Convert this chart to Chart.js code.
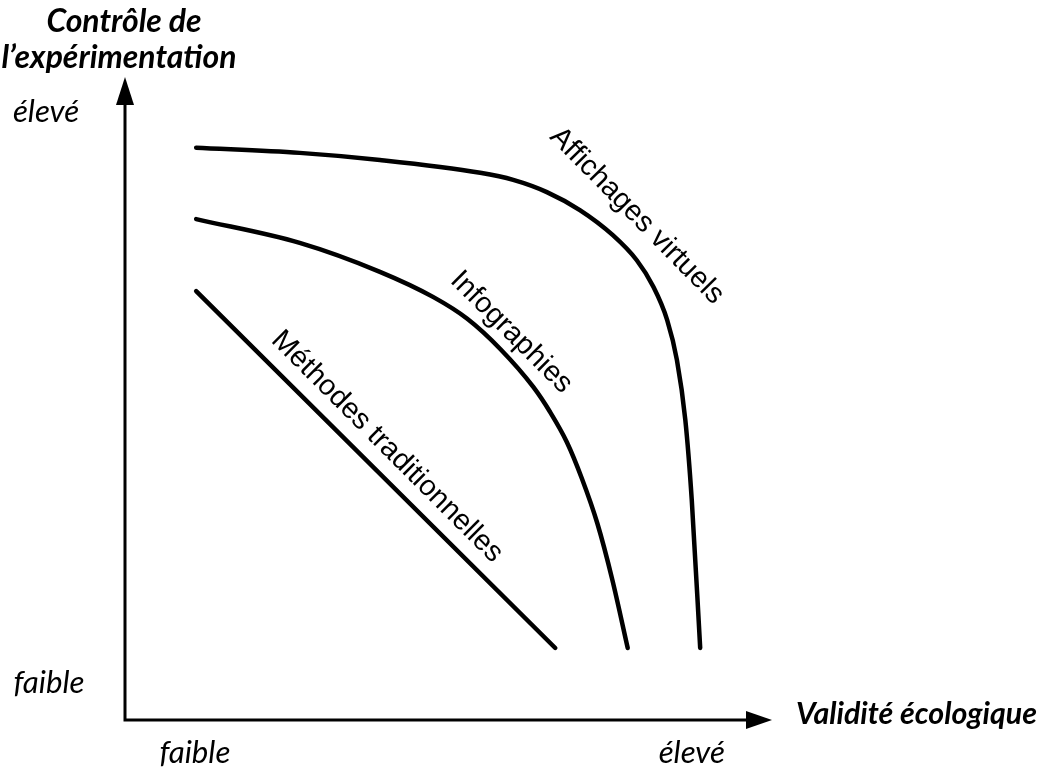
<!DOCTYPE html>
<html>
<head>
<meta charset="utf-8">
<script src="https://cdn.jsdelivr.net/npm/chart.js@4.4.1/dist/chart.umd.min.js"></script>
<style>
  html, body { margin: 0; padding: 0; background: #fff; }
  #wrap { width: 1045px; height: 769px; position: relative; }
</style>
</head>
<body>
<div id="wrap"><canvas id="c"></canvas></div>
<script>
// ---- Data (arbitrary 0-100 units) ----
const seriesNames = ['Méthodes traditionnelles', 'Infographies', 'Affichages virtuels'];

const methodesX = [11.0, 66.5];
const methodesY = [66.7, 11.2];

const infographiesX = [11.0, 27.0, 39.4, 47.6, 52.9, 58.0, 63.1, 65.7, 68.3, 70.6, 73.0, 75.3, 77.7];
const infographiesY = [77.9, 74.2, 69.7, 65.8, 62.4, 57.7, 51.8, 47.9, 43.2, 37.6, 30.6, 21.9, 11.2];

const affichagesX = [11.0, 27.0, 39.4, 54.9, 60.0, 65.2, 70.3, 75.4, 79.1, 81.6, 83.8, 85.3, 86.6, 87.6, 88.9];
const affichagesY = [89.0, 88.2, 87.1, 85.1, 84.0, 82.1, 79.3, 75.4, 71.5, 67.5, 62.2, 56.0, 46.7, 34.2, 11.2];

const xAxisTitle = 'Validité écologique';
const yAxisTitle = ['Contrôle de', 'l\u2019expérimentation'];
const xTickLabels = ['faible', 'élevé'];
const yTickLabels = ['faible', 'élevé'];

function pts(xs, ys) { return xs.map((x, i) => ({ x: x, y: ys[i] })); }

function fitFont(ctx, text, style, family, target) {
  ctx.font = style + ' 100px ' + family;
  const w = ctx.measureText(text).width;
  const size = 100 * target / w;
  return style + ' ' + size.toFixed(2) + 'px ' + family;
}

const decor = {
  id: 'decor',
  afterDatasetsDraw(chart) {
    const ctx = chart.ctx;
    const xs = chart.scales.x, ys = chart.scales.y;
    const x0 = xs.getPixelForValue(0), y0 = ys.getPixelForValue(0);
    const xTip = xs.getPixelForValue(100), yTip = ys.getPixelForValue(100);
    ctx.save();
    // axes
    ctx.strokeStyle = '#000';
    ctx.fillStyle = '#000';
    ctx.lineWidth = 3;
    ctx.lineCap = 'butt';
    ctx.beginPath();
    ctx.moveTo(x0, y0 + 1.5);
    ctx.lineTo(x0, yTip + 27);
    ctx.moveTo(x0 - 1.5, y0);
    ctx.lineTo(xTip - 25, y0);
    ctx.stroke();
    // arrowheads
    ctx.beginPath();
    ctx.moveTo(x0, yTip);
    ctx.lineTo(x0 - 9, yTip + 28);
    ctx.lineTo(x0 + 9, yTip + 28);
    ctx.closePath();
    ctx.fill();
    ctx.beginPath();
    ctx.moveTo(xTip, y0);
    ctx.lineTo(xTip - 26, y0 - 9);
    ctx.lineTo(xTip - 26, y0 + 9);
    ctx.closePath();
    ctx.fill();

    // axis titles
    const boldIt = 'italic bold';
    const fam = 'Lato, "Open Sans", sans-serif';
    ctx.textBaseline = 'alphabetic';
    ctx.textAlign = 'center';
    ctx.font = fitFont(ctx, yAxisTitle[1], boldIt, fam, 235);
    ctx.fillText(yAxisTitle[0], x0 - 1, 32);
    ctx.fillText(yAxisTitle[1], x0 - 6, 68);
    ctx.font = fitFont(ctx, xAxisTitle, boldIt, fam, 241);
    ctx.textAlign = 'left';
    ctx.fillText(xAxisTitle, 796, y0 + 4);

    // tick labels
    ctx.textAlign = 'center';
    ctx.font = fitFont(ctx, 'faible', 'italic', fam, 71);
    ctx.fillText(xTickLabels[0], xs.getPixelForValue(10.8), 763);
    ctx.fillText(xTickLabels[1], xs.getPixelForValue(87.6), 763);
    ctx.fillText(yTickLabels[0], 49, 693);
    ctx.fillText(yTickLabels[1], 46, 122);

    // curve labels
    const lab = [
      { t: seriesNames[2], x: 79.1, y: 78.4, a: 45.5 },
      { t: seriesNames[1], x: 59.7, y: 60.3, a: 45 },
      { t: seriesNames[0], x: 40.5, y: 42.5, a: 45 }
    ];
    ctx.font = '29px "Liberation Sans", Arial, sans-serif';
    ctx.textBaseline = 'middle';
    lab.forEach(l => {
      ctx.save();
      ctx.translate(xs.getPixelForValue(l.x), ys.getPixelForValue(l.y));
      ctx.rotate(l.a * Math.PI / 180);
      ctx.fillText(l.t, 0, 0);
      ctx.restore();
    });
    ctx.restore();
  }
};

const lineStyle = {
  showLine: true, borderColor: '#000', backgroundColor: '#000', borderWidth: 4.5,
  pointRadius: 0, fill: false, cubicInterpolationMode: 'monotone',
  borderCapStyle: 'round', borderJoinStyle: 'round'
};

new Chart(document.getElementById('c'), {
  type: 'scatter',
  data: {
    datasets: [
      Object.assign({ label: seriesNames[0], data: pts(methodesX, methodesY) }, lineStyle, { cubicInterpolationMode: 'default', tension: 0 }),
      Object.assign({ label: seriesNames[1], data: pts(infographiesX, infographiesY) }, lineStyle),
      Object.assign({ label: seriesNames[2], data: pts(affichagesX, affichagesY) }, lineStyle)
    ]
  },
  options: {
    responsive: true,
    maintainAspectRatio: false,
    animation: false,
    layout: { padding: { left: 125, right: 273, top: 77, bottom: 49 } },
    plugins: { legend: { display: false }, tooltip: { enabled: false }, title: { display: false } },
    scales: {
      x: { type: 'linear', min: 0, max: 100, display: false },
      y: { type: 'linear', min: 0, max: 100, display: false }
    }
  },
  plugins: [decor]
});
</script>
</body>
</html>
